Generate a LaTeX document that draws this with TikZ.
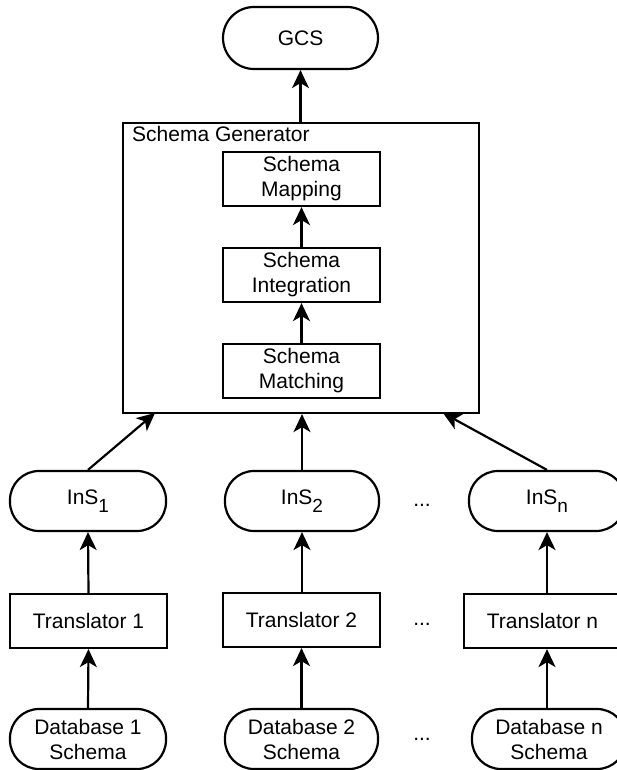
\documentclass[tikz,border=0pt]{standalone}
\usepackage{fontspec}
\setmainfont{Liberation Sans}
\usetikzlibrary{arrows.meta}
\tikzset{
  base/.style={draw=black, line width=2.2pt, inner sep=0pt, align=center,
    font=\fontsize{21pt}{25pt}\selectfont},
  pill/.style={base, rectangle, rounded corners=29pt, minimum width=156pt, minimum height=60pt},
  boxnode/.style={base, rectangle, minimum width=157pt, minimum height=54pt},
  dotsnode/.style={inner sep=0pt, anchor=base, font=\fontsize{21pt}{25pt}\selectfont},
  arr/.style={line width=2.2pt, -{Stealth[length=18pt, width=17pt, inset=5pt]}}
}
\newcommand{\subtxt}[1]{\raisebox{-8pt}{\fontsize{19pt}{19pt}\selectfont #1}}
\begin{document}
\begin{tikzpicture}[x=1pt, y=-1pt]
\useasboundingbox (0,0) rectangle (616,770);
% top
\node[pill, rounded corners=31pt, minimum width=155pt, minimum height=62pt] (gcs) at (300.5,38) {GCS};
\node[base, minimum width=356pt, minimum height=290pt] (gen) at (301,268) {};
\node[inner sep=0pt, anchor=base west, font=\fontsize{21pt}{25pt}\selectfont] (genlabel) at (132,142) {Schema Generator};
\node[boxnode] (map) at (301.5,179) {Schema\\Mapping};
\node[boxnode] (integ) at (301.5,275) {Schema\\Integration};
\node[boxnode] (match) at (301.5,371) {Schema\\Matching};
% InS row
\node[pill] (ins1) at (88,501) {InS\subtxt{1}};
\node[pill, minimum width=154pt] (ins2) at (302,501) {InS\subtxt{2}};
\node[pill] (insn) at (547,501) {InS\subtxt{n}};
% translators
\node[boxnode] (tr1) at (88.5,621) {Translator 1};
\node[boxnode] (tr2) at (301.5,620) {Translator 2};
\node[boxnode] (trn) at (542.5,621) {Translator n};
% databases
\node[pill] (db1) at (88,739) {Database 1\\Schema};
\node[pill, minimum width=153pt] (db2) at (301.5,739) {Database 2\\Schema};
\node[pill, minimum width=154pt] (dbn) at (549,739) {Database n\\Schema};
% dots
\node[dotsnode] (d1) at (422,506) {...};
\node[dotsnode] (d2) at (422,625) {...};
\node[dotsnode] (d3) at (422,740) {...};
% connector end points on the generator box
\coordinate (g1) at (155,413);
\coordinate (gn) at (443,413);
% arrows
\draw[arr] (gen.north -| gcs.south) -- (gcs.south);
\draw[arr] (match.north) -- (integ.south);
\draw[arr] (integ.north) -- (map.south);
\draw[arr] (ins1.north) -- (g1);
\draw[arr] (ins2.north) -- (ins2.north |- gen.south);
\draw[arr] (insn.north) -- (gn);
\draw[arr] (tr1.north) -- (ins1.south);
\draw[arr] (tr2.north -| ins2.south) -- (ins2.south);
\draw[arr] (insn.south |- trn.north) -- (insn.south);
\draw[arr] (db1.north) -- (tr1.south);
\draw[arr] (db2.north -| tr2.south) -- (tr2.south);
\draw[arr] (insn.south |- dbn.north) -- (insn.south |- trn.south);
\end{tikzpicture}
\end{document}
